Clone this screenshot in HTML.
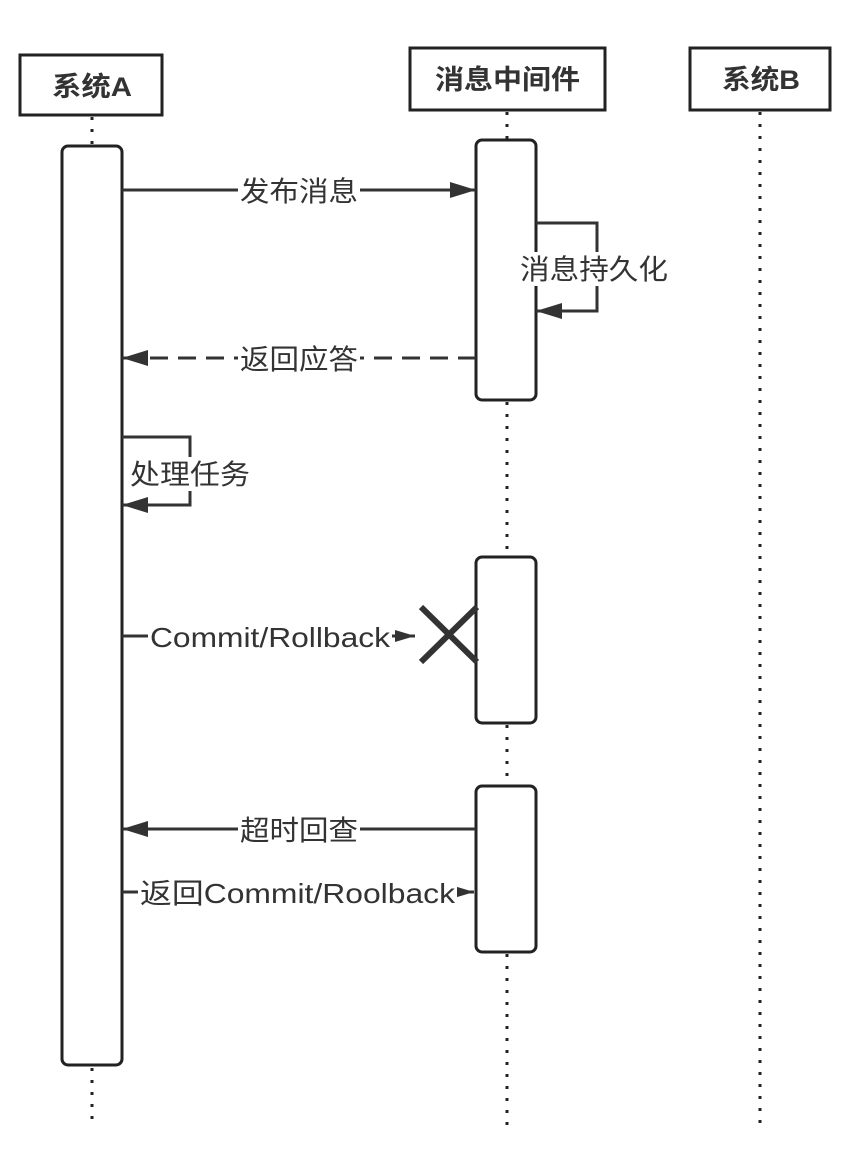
<!DOCTYPE html>
<html><head><meta charset="utf-8"><style>
html,body{margin:0;padding:0;background:#fff;}
svg{display:block;}
text{font-family:"Liberation Sans","Noto Sans CJK SC",sans-serif;fill:#333;}
</style></head><body>
<svg width="868" height="1152" viewBox="0 0 868 1152" xmlns="http://www.w3.org/2000/svg">
<defs>
<marker id="ab" viewBox="0 0 26 16" markerWidth="26" markerHeight="16" refX="26" refY="8" orient="auto" markerUnits="userSpaceOnUse"><path d="M0,0 L26,8 L0,16z" fill="#333"/></marker>
<marker id="as" viewBox="0 0 20 12" markerWidth="20" markerHeight="12" refX="20" refY="6" orient="auto" markerUnits="userSpaceOnUse"><path d="M0,0 L20,6 L0,12z" fill="#333"/></marker>
</defs>
<g stroke="#222" stroke-width="3" stroke-dasharray="3,9" fill="none">
<line x1="92" y1="117" x2="92" y2="146"/>
<line x1="92" y1="1068" x2="92" y2="1128"/>
<line x1="507" y1="112" x2="507" y2="140"/>
<line x1="507" y1="402" x2="507" y2="557"/>
<line x1="507" y1="725" x2="507" y2="786"/>
<line x1="507" y1="954" x2="507" y2="1128"/>
<line x1="760" y1="112" x2="760" y2="1128"/>
</g>
<g fill="#fff" stroke="#222" stroke-width="3">
<rect x="20" y="55" width="142" height="60"/>
<rect x="410" y="48" width="195" height="62"/>
<rect x="690" y="48" width="140" height="62"/>
<rect x="62" y="146" width="60" height="919" rx="6"/>
<rect x="476" y="140" width="60" height="260" rx="6"/>
<rect x="476" y="557" width="60" height="166" rx="6"/>
<rect x="476" y="786" width="60" height="166" rx="6"/>
</g>
<g font-size="27" font-weight="bold">
<text x="52" y="96" textLength="80" lengthAdjust="spacingAndGlyphs">系统A</text>
<text x="435" y="89" textLength="145" lengthAdjust="spacingAndGlyphs">消息中间件</text>
<text x="722" y="89" textLength="78" lengthAdjust="spacingAndGlyphs">系统B</text>
</g>
<g stroke="#333" stroke-width="3" fill="none">
<line x1="122" y1="190" x2="476" y2="190" marker-end="url(#ab)"/>
<polyline points="536,223 597,223 597,311 536,311" marker-end="url(#ab)"/>
<line x1="476" y1="358" x2="122" y2="358" stroke-dasharray="18,10" marker-end="url(#ab)"/>
<polyline points="122,437 190,437 190,505 122,505" marker-end="url(#ab)"/>
<line x1="122" y1="636" x2="415" y2="636" marker-end="url(#as)"/>
<line x1="476" y1="829" x2="122" y2="829" marker-end="url(#ab)"/>
<line x1="122" y1="892" x2="474" y2="892" marker-end="url(#as)"/>
</g>
<g stroke="#333" stroke-width="6">
<line x1="421" y1="607" x2="477" y2="662"/>
<line x1="421" y1="662" x2="477" y2="607"/>
</g>
<g font-size="28">
<rect x="238" y="174" width="122" height="34" fill="#fff"/>
<text x="240" y="201" textLength="118" lengthAdjust="spacingAndGlyphs">发布消息</text>
<rect x="518" y="252" width="152" height="34" fill="#fff"/>
<text x="520" y="279" textLength="148" lengthAdjust="spacingAndGlyphs">消息持久化</text>
<rect x="238" y="342" width="122" height="34" fill="#fff"/>
<text x="240" y="369" textLength="118" lengthAdjust="spacingAndGlyphs">返回应答</text>
<rect x="128" y="457" width="124" height="34" fill="#fff"/>
<text x="130" y="484" textLength="120" lengthAdjust="spacingAndGlyphs">处理任务</text>
<rect x="148" y="620" width="244" height="34" fill="#fff"/>
<text x="150" y="647" textLength="240" lengthAdjust="spacingAndGlyphs">Commit/Rollback</text>
<rect x="238" y="813" width="122" height="34" fill="#fff"/>
<text x="240" y="840" textLength="118" lengthAdjust="spacingAndGlyphs">超时回查</text>
<rect x="138" y="876" width="319" height="34" fill="#fff"/>
<text x="140" y="903" textLength="315" lengthAdjust="spacingAndGlyphs">返回Commit/Roolback</text>
</g>
</svg>
</body></html>
